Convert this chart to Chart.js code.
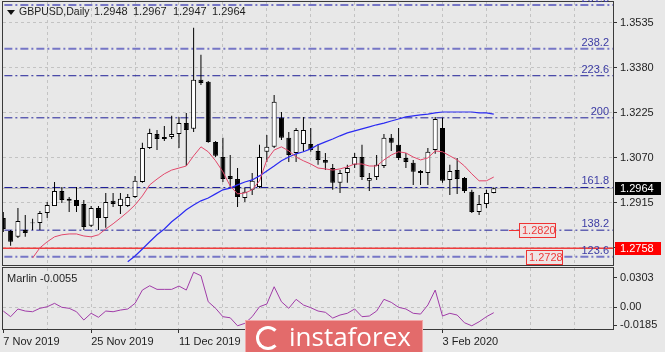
<!DOCTYPE html>
<html>
<head>
<meta charset="utf-8">
<script src="https://cdn.jsdelivr.net/npm/chart.js@4.4.1/dist/chart.umd.min.js"></script>
<style>
  body { margin: 0; background: #e8e8e8; }
  #wrap { position: relative; width: 665px; height: 352px; overflow: hidden; background: #e8e8e8;
          font-family: 'Liberation Sans', Arial, sans-serif; }
  #main { position: absolute; left: 0; top: 0; }
  #sub { position: absolute; left: 0; top: 266px; }
  .lbl { position: absolute; font-size: 11px; line-height: 13px; color: #1e1e1e; white-space: nowrap; }
  #tri { position: absolute; left: 7px; top: 10px; width: 0; height: 0;
         border-left: 4px solid transparent; border-right: 4px solid transparent; border-top: 5px solid #111; }
  #mark { position: absolute; left: 245px; top: 320px; width: 176px; height: 40px; background: #e36b6b;
          border: 1px solid #f2a6a6; }
  #mark .ring { position: absolute; left: 10px; top: 5px; width: 18px; height: 18px; border: 3px solid #fff;
                border-radius: 50%; border-right-color: transparent; }
  #mark .txt { position: absolute; left: 43px; top: 0px; font-family: 'Open Sans', 'Liberation Sans', sans-serif;
               font-size: 26px; line-height: 30px; color: #fff; }
</style>
</head>
<body>
<div id="wrap">
  <canvas id="main" width="665" height="268"></canvas>
  <canvas id="sub" width="665" height="86"></canvas>
  <div id="tri"></div>
  <div class="lbl" style="left:19px;top:5px;font-size:10.5px;">GBPUSD,Daily</div>
  <div class="lbl" style="left:94px;top:5px;">1.2948</div>
  <div class="lbl" style="left:133px;top:5px;">1.2967</div>
  <div class="lbl" style="left:173px;top:5px;">1.2947</div>
  <div class="lbl" style="left:212px;top:5px;">1.2964</div>
  <div class="lbl" style="left:7px;top:272px;">Marlin -0.0055</div>
  <div id="mark"><div class="ring"></div><div class="txt">instaforex</div></div>
</div>
<script>
// Daily GBPUSD candles, 7 Nov 2019 .. 12 Feb 2020
const opens = [1.2862, 1.2817, 1.2797, 1.2821, 1.2844, 1.2845, 1.2879, 1.2903, 1.2955, 1.2928,
  1.2924, 1.2910, 1.2835, 1.2896, 1.2862, 1.2921, 1.2903, 1.2903, 1.2934, 1.2986,
  1.3103, 1.3151, 1.3134, 1.3141, 1.3151, 1.3189, 1.3169, 1.3338, 1.3331, 1.3124,
  1.3072, 1.3007, 1.2996, 1.2931, 1.2959, 1.2969, 1.3090, 1.3107, 1.3207, 1.3138,
  1.3086, 1.3117, 1.3117, 1.3093, 1.3062, 1.3034, 1.2983, 1.3017, 1.3045, 1.3072,
  1.2990, 1.3003, 1.3041, 1.3138, 1.3114, 1.3069, 1.3052, 1.3024, 1.3017, 1.3096,
  1.3172, 1.2993, 1.3027, 1.3000, 1.2952, 1.2883, 1.2910, 1.2948];
const highs = [1.2883, 1.2821, 1.2896, 1.2872, 1.2859, 1.2886, 1.2917, 1.2986, 1.2969, 1.2934,
  1.2969, 1.2924, 1.2903, 1.2903, 1.2948, 1.2948, 1.2948, 1.2945, 1.3007, 1.3121,
  1.3169, 1.3165, 1.3179, 1.3214, 1.3210, 1.3224, 1.3517, 1.3424, 1.3334, 1.3127,
  1.3138, 1.3079, 1.3034, 1.2965, 1.3017, 1.3114, 1.3148, 1.3286, 1.3227, 1.3158,
  1.3172, 1.3210, 1.3172, 1.3117, 1.3086, 1.3048, 1.3027, 1.3045, 1.3086, 1.3114,
  1.3017, 1.3079, 1.3151, 1.3151, 1.3172, 1.3086, 1.3062, 1.3027, 1.3103, 1.3210,
  1.3207, 1.3045, 1.3069, 1.3003, 1.2959, 1.2941, 1.2959, 1.2967];
const lows = [1.2814, 1.2766, 1.2793, 1.2797, 1.2821, 1.2821, 1.2862, 1.2903, 1.2914, 1.2883,
  1.2883, 1.2821, 1.2831, 1.2821, 1.2828, 1.2900, 1.2876, 1.2900, 1.2931, 1.2983,
  1.3100, 1.3096, 1.3127, 1.3134, 1.3103, 1.3041, 1.3158, 1.3320, 1.3121, 1.3072,
  1.2986, 1.2969, 1.2900, 1.2917, 1.2941, 1.2965, 1.3055, 1.3103, 1.3131, 1.3055,
  1.3055, 1.3090, 1.3090, 1.3045, 1.3027, 1.2959, 1.2948, 1.2983, 1.3034, 1.2993,
  1.2955, 1.2993, 1.3034, 1.3093, 1.3062, 1.3034, 1.2976, 1.2976, 1.2976, 1.3083,
  1.2983, 1.2941, 1.2945, 1.2948, 1.2879, 1.2872, 1.2896, 1.2947];
const closes = [1.2824, 1.2780, 1.2852, 1.2810, 1.2846, 1.2879, 1.2907, 1.2955, 1.2924, 1.2921,
  1.2903, 1.2831, 1.2896, 1.2862, 1.2917, 1.2910, 1.2928, 1.2934, 1.2990, 1.3103,
  1.3155, 1.3134, 1.3141, 1.3151, 1.3189, 1.3165, 1.3338, 1.3327, 1.3124, 1.3076,
  1.2996, 1.2996, 1.2934, 1.2952, 1.2990, 1.3072, 1.3107, 1.3262, 1.3138, 1.3079,
  1.3165, 1.3165, 1.3096, 1.3062, 1.3052, 1.2983, 1.3017, 1.3034, 1.3072, 1.3003,
  1.3000, 1.3045, 1.3138, 1.3121, 1.3069, 1.3055, 1.3021, 1.3017, 1.3090, 1.3203,
  1.2990, 1.3024, 1.2996, 1.2955, 1.2883, 1.2910, 1.2948, 1.2964];

// moving averages (null = not on screen)
const redMA = [null, null, null, null, 1.2724, 1.2759, 1.2780, 1.2797, 1.2804, 1.2807,
  1.2807, 1.2800, 1.2797, 1.2804, 1.2824, 1.2842, 1.2862, 1.2883, 1.2907, 1.2938,
  1.2976, 1.2996, 1.3014, 1.3027, 1.3034, 1.3041, 1.3076, 1.3107, 1.3090, 1.3059,
  1.3021, 1.2972, 1.2945, 1.2948, 1.2959, 1.2990, 1.3062, 1.3096, 1.3107, 1.3093,
  1.3072, 1.3059, 1.3048, 1.3034, 1.3031, 1.3027, 1.3031, 1.3038, 1.3048, 1.3048,
  1.3041, 1.3041, 1.3062, 1.3079, 1.3090, 1.3086, 1.3072, 1.3062, 1.3069, 1.3093,
  1.3090, 1.3076, 1.3062, 1.3041, 1.3014, 1.2990, 1.2990, 1.3003];
const blueMA = [null, null, null, null, null, null, null, null, null, null,
  null, null, null, null, null, null, null, 1.2711, 1.2731, 1.2755,
  1.2780, 1.2804, 1.2824, 1.2849, 1.2869, 1.2890, 1.2907, 1.2921, 1.2931, 1.2945,
  1.2959, 1.2965, 1.2976, 1.2986, 1.2993, 1.3007, 1.3024, 1.3041, 1.3059, 1.3072,
  1.3083, 1.3090, 1.3100, 1.3114, 1.3124, 1.3134, 1.3145, 1.3155, 1.3162, 1.3169,
  1.3176, 1.3183, 1.3189, 1.3196, 1.3203, 1.3210, 1.3214, 1.3217, 1.3220, 1.3224,
  1.3227, 1.3227, 1.3227, 1.3227, 1.3227, 1.3224, 1.3224, 1.3220];

const marlin = [-0.0038, -0.0096, -0.0017, -0.0038, -0.0045, -0.0010, 0.0006, 0.0041, 0.0000, -0.0010,
  -0.0045, -0.0130, -0.0061, -0.0102, -0.0038, -0.0045, -0.0028, -0.0017, 0.0041, 0.0177,
  0.0221, 0.0184, 0.0184, 0.0184, 0.0218, 0.0177, 0.0359, 0.0324, 0.0057, -0.0010,
  -0.0096, -0.0107, -0.0189, -0.0164, -0.0096, 0.0006, 0.0034, 0.0211, 0.0057, -0.0010,
  0.0082, 0.0024, -0.0004, -0.0038, -0.0051, -0.0110, -0.0079, -0.0061, -0.0017, -0.0096,
  -0.0089, -0.0038, 0.0082, 0.0051, 0.0000, -0.0017, -0.0061, -0.0069, 0.0024, 0.0177,
  -0.0089, -0.0061, -0.0079, -0.0158, -0.0189, -0.0148, -0.0096, -0.0055];

const fibLevels = ['123.6', '138.2', '161.8', '200', '223.6', '238.2', '261.8'];
const fibPrices = [1.2728, 1.2820, 1.2967, 1.3207, 1.3352, 1.3445, 1.3596];
const fibLight = [true, false, false, false, false, true, true];

const priceTicks = [1.2760, 1.2915, 1.3070, 1.3225, 1.3380, 1.3535];
const marlinTicks = [-0.0185, 0, 0.0303];
const dateLabels = ['7 Nov 2019', '25 Nov 2019', '11 Dec 2019', '30 Dec 2019', '16 Jan 2020', '3 Feb 2020'];
const dateIdx = [0, 12, 24, 36, 48, 60];
const gridIdx = [6, 12, 18, 24, 30, 36, 42, 48, 54, 60, 66, 72, 78];

const supportLevel = 1.2758;
const priceTags = [1.2820, 1.2728];

const FONT = "'Liberation Sans', Arial, sans-serif";
const GRID = '#c3c3c3';
const xMin = -0.04, xMax = 83.29;

const wickData = opens.map((o, i) => ({ x: i, y: [lows[i], highs[i]] }));
const bodyData = opens.map((o, i) => ({ x: i, y: [o, closes[i]] }));
const bodyFill = opens.map((o, i) => closes[i] >= o ? '#ffffff' : '#000000');
const asPoints = arr => arr.map((v, i) => ({ x: i, y: v }));
const hline = v => [{ x: xMin - 2, y: v }, { x: xMax + 2, y: v }];

const lastClose = closes[closes.length - 1];

const fibSets = fibPrices.map((p, k) => ({
  type: 'line', data: hline(p), order: 5,
  borderColor: fibLight[k] ? '#7676c6' : '#1f1f98',
  borderWidth: fibLight[k] ? 2 : 1,
  borderDash: [8, 3, 2, 3], pointRadius: 0
}));

const framePlugin = {
  id: 'frame',
  afterDraw(chart) {
    const a = chart.chartArea, c = chart.ctx;
    c.save();
    c.strokeStyle = '#3a3a3a';
    c.lineWidth = 1;
    c.strokeRect(Math.round(a.left) - 0.5, Math.round(a.top) - 0.5,
      Math.round(a.right - a.left) + 1, Math.round(a.bottom - a.top) + 1);
    c.restore();
  }
};

const tagsPlugin = {
  id: 'tags',
  afterDraw(chart) {
    const c = chart.ctx, y = chart.scales.y, a = chart.chartArea;
    c.save();
    c.font = '11px ' + FONT;
    c.textBaseline = 'alphabetic';
    // fibo level captions
    c.fillStyle = '#3b3ba4';
    c.textAlign = 'right';
    fibPrices.forEach((p, k) => {
      c.fillText(fibLevels[k], a.right - 4, y.getPixelForValue(p) - 3);
    });
    // price tags on the chart
    c.textAlign = 'left';
    c.textBaseline = 'middle';
    const tagLeft = [519, 526];
    priceTags.forEach((p, k) => {
      const py = Math.round(y.getPixelForValue(p));
      const x0 = tagLeft[k];
      if (k === 0) {
        c.strokeStyle = '#ee3333';
        c.beginPath(); c.moveTo(x0 - 10, py + 0.5); c.lineTo(x0, py + 0.5); c.stroke();
      }
      c.fillStyle = '#efe4e4';
      c.fillRect(x0, py - 7, 36, 14);
      c.strokeStyle = '#ee3333';
      c.strokeRect(x0 + 0.5, py - 6.5, 36, 14);
      c.fillStyle = '#ee3a3a';
      c.fillText(p.toFixed(4), x0 + 3, py + 0.5);
    });
    // axis price boxes
    const boxes = [[lastClose, '#000000'], [supportLevel, '#ff0000']];
    boxes.forEach(([p, col]) => {
      const py = Math.round(y.getPixelForValue(p));
      c.fillStyle = col;
      c.fillRect(a.right + 2, py - 6, 46, 13);
      c.fillStyle = '#ffffff';
      c.fillText(p.toFixed(4), a.right + 7, py + 0.5);
    });
    c.restore();
  }
};

new Chart(document.getElementById('main'), {
  type: 'bar',
  data: {
    datasets: [
      { type: 'line', data: asPoints(redMA), borderColor: '#e2476a', borderWidth: 1, pointRadius: 0, order: 1 },
      { type: 'line', data: asPoints(blueMA), borderColor: '#2b2bf2', borderWidth: 1.2, pointRadius: 0, order: 1 },
      { data: bodyData, backgroundColor: bodyFill, borderColor: '#000000', borderWidth: 1, borderSkipped: false,
        barThickness: 5, maxBarThickness: 5, grouped: false, inflateAmount: 0, order: 2 },
      { data: wickData, backgroundColor: '#000000', borderWidth: 0,
        barThickness: 1, maxBarThickness: 1, grouped: false, inflateAmount: 0, order: 3 },
      { type: 'line', data: hline(supportLevel), borderColor: '#f03c3c', borderWidth: 1.5, pointRadius: 0, order: 4 },
      { type: 'line', data: hline(lastClose), borderColor: '#b4b4b4', borderWidth: 1, pointRadius: 0, order: 6 },
      ...fibSets
    ]
  },
  options: {
    responsive: false,
    animation: false,
    events: [],
    layout: { padding: { left: 3, top: 2, right: 0, bottom: 3 } },
    plugins: { legend: { display: false }, tooltip: { enabled: false } },
    scales: {
      x: {
        type: 'linear', min: xMin, max: xMax, offset: false,
        afterBuildTicks: s => { s.ticks = gridIdx.map(v => ({ value: v })); },
        ticks: { display: false },
        grid: { color: GRID, drawTicks: false, offset: false },
        border: { display: false, dash: [3, 3] },
        afterFit: s => { s.height = 0; s.paddingLeft = 0; s.paddingRight = 0; }
      },
      y: {
        position: 'right', min: 1.2700, max: 1.3606,
        afterBuildTicks: s => { s.ticks = priceTicks.map(v => ({ value: v })); },
        ticks: { color: '#1e1e1e', font: { family: FONT, size: 11 }, padding: 3,
                 callback: v => v === priceTicks[0] ? '' : v.toFixed(4) },
        grid: { color: GRID, tickLength: 4, tickColor: '#333333' },
        border: { display: false, dash: [3, 3] },
        afterFit: s => { s.width = 52; s.paddingTop = 0; s.paddingBottom = 0; }
      }
    }
  },
  plugins: [framePlugin, tagsPlugin]
});

new Chart(document.getElementById('sub'), {
  type: 'line',
  data: {
    datasets: [
      { data: asPoints(marlin), borderColor: '#a03ca8', borderWidth: 1, pointRadius: 0 }
    ]
  },
  options: {
    responsive: false,
    animation: false,
    events: [],
    layout: { padding: { left: 3, top: 2, right: 0, bottom: 0 } },
    plugins: { legend: { display: false }, tooltip: { enabled: false } },
    scales: {
      x: {
        type: 'linear', min: xMin, max: xMax, offset: false,
        afterBuildTicks: s => { s.ticks = [0].concat(gridIdx).map(v => ({ value: v })); },
        ticks: {
          color: '#1e1e1e', font: { family: FONT, size: 11 }, padding: 2, align: 'start',
          autoSkip: false, maxRotation: 0,
          callback: v => dateIdx.includes(v) ? dateLabels[dateIdx.indexOf(v)] : ''
        },
        grid: {
          color: ctx => ctx.tick && ctx.tick.value === 0 ? 'rgba(0,0,0,0)' : GRID,
          tickColor: ctx => ctx.tick && dateIdx.includes(ctx.tick.value) ? '#333333' : 'rgba(0,0,0,0)',
          tickLength: 4
        },
        border: { display: false, dash: [3, 3] },
        afterFit: s => { s.height = 23; s.paddingLeft = 0; s.paddingRight = 0; }
      },
      y: {
        position: 'right', min: -0.0222, max: 0.0403,
        afterBuildTicks: s => { s.ticks = marlinTicks.map(v => ({ value: v })); },
        ticks: { color: '#1e1e1e', font: { family: FONT, size: 11 }, padding: 3,
                 callback: v => v === 0 ? '0.00' : v.toFixed(4) },
        grid: {
          color: ctx => ctx.tick && ctx.tick.value === 0 ? GRID : 'rgba(0,0,0,0)',
          tickColor: '#333333', tickLength: 4
        },
        border: { display: false, dash: [3, 3] },
        afterFit: s => { s.width = 52; s.paddingTop = 0; s.paddingBottom = 0; }
      }
    }
  },
  plugins: [framePlugin]
});
</script>
</body>
</html>
